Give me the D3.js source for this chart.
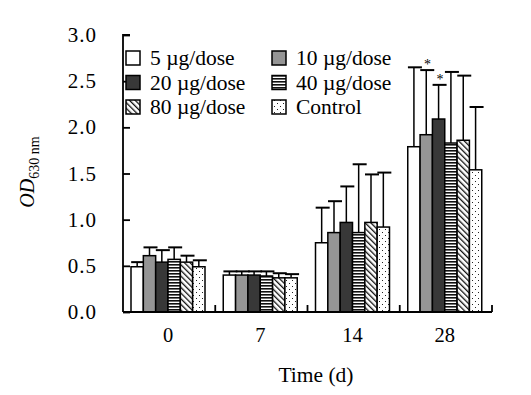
<!DOCTYPE html>
<html>
<head>
<meta charset="utf-8">
<script src="https://cdn.jsdelivr.net/npm/d3@7"></script>
<style>
  body { margin: 0; background: #fff; }
  text { font-family: "Liberation Serif", "Times New Roman", serif; }
</style>
</head>
<body>
<svg id="chart" width="531" height="395"></svg>
<script>
let days = ["0", "7", "14", "28"]
let series = ["5 µg/dose", "10 µg/dose", "20 µg/dose", "40 µg/dose", "80 µg/dose", "Control"]
// bar heights per series, one value per day
let means = [
  [0.49, 0.40, 0.75, 1.79],
  [0.61, 0.40, 0.86, 1.92],
  [0.54, 0.40, 0.97, 2.09],
  [0.57, 0.39, 0.86, 1.83],
  [0.54, 0.37, 0.97, 1.86],
  [0.49, 0.37, 0.92, 1.54]
]
// top of error bar
let upper = [
  [0.54, 0.44, 1.13, 2.65],
  [0.70, 0.44, 1.20, 2.62],
  [0.67, 0.44, 1.36, 2.46],
  [0.70, 0.44, 1.60, 2.60],
  [0.61, 0.42, 1.49, 2.56],
  [0.56, 0.41, 1.51, 2.22]
]
let y_ticks = [0, 0.5, 1.0, 1.5, 2.0, 2.5, 3.0]
let stars = [{series: 1, day: "28"}, {series: 2, day: "28"}]

let svg = d3.select("#chart")
let defs = svg.append("defs")

defs.append("pattern").attr("id", "hstripe").attr("patternUnits", "userSpaceOnUse")
  .attr("width", 4).attr("height", 3)
  .call(p => {
    p.append("rect").attr("width", 4).attr("height", 3).attr("fill", "#fff")
    p.append("rect").attr("width", 4).attr("height", 1.6).attr("fill", "#111")
  })
defs.append("pattern").attr("id", "dstripe").attr("patternUnits", "userSpaceOnUse")
  .attr("width", 4).attr("height", 4).attr("patternTransform", "rotate(-45)")
  .call(p => {
    p.append("rect").attr("width", 4).attr("height", 4).attr("fill", "#fff")
    p.append("rect").attr("width", 1.3).attr("height", 4).attr("fill", "#111")
  })
defs.append("pattern").attr("id", "dots").attr("patternUnits", "userSpaceOnUse")
  .attr("width", 6).attr("height", 6)
  .call(p => {
    p.append("rect").attr("width", 6).attr("height", 6).attr("fill", "#fff")
    p.append("rect").attr("x", 1).attr("y", 1).attr("width", 1).attr("height", 1).attr("fill", "#222")
    p.append("rect").attr("x", 4).attr("y", 4).attr("width", 1).attr("height", 1).attr("fill", "#222")
  })

let fills = ["#fff", "#959595", "#383838", "url(#hstripe)", "url(#dstripe)", "url(#dots)"]

let x = d3.scaleBand().domain(days).range([123, 492])
let xi = d3.scaleBand().domain(d3.range(series.length)).range([8, 82])
let y = d3.scaleLinear().domain([0, 3]).range([312, 35])

// bars + error bars
series.forEach((s, i) => {
  let g = svg.append("g")
  days.forEach((d, j) => {
    let bx = x(d) + xi(i)
    let cx = bx + xi.bandwidth() / 2
    g.append("line")
      .attr("x1", cx).attr("x2", cx)
      .attr("y1", y(means[i][j])).attr("y2", y(upper[i][j]))
      .attr("stroke", "#000").attr("stroke-width", 1.5)
    g.append("line")
      .attr("x1", cx - 6).attr("x2", cx + 8)
      .attr("y1", y(upper[i][j])).attr("y2", y(upper[i][j]))
      .attr("stroke", "#000").attr("stroke-width", 2)
    g.append("rect")
      .attr("x", bx).attr("y", y(means[i][j]))
      .attr("width", xi.bandwidth()).attr("height", y(0) - y(means[i][j]))
      .attr("fill", fills[i]).attr("stroke", "#000").attr("stroke-width", 1.5)
  })
})

stars.forEach(st => {
  let j = days.indexOf(st.day)
  svg.append("text")
    .attr("x", x(st.day) + xi(st.series) + 7.5)
    .attr("y", y(upper[st.series][j]) - 1)
    .attr("text-anchor", "middle").attr("font-size", 14)
    .text("*")
})

// y axis
let y_axis = d3.axisRight(y).tickValues(y_ticks).tickSize(7).tickFormat("")
svg.append("g").attr("transform", "translate(123,0)").call(y_axis)
  .call(g => g.select(".domain").attr("d", "M7,35H0V312"))
  .call(g => g.selectAll("line,path").attr("stroke", "#000").attr("stroke-width", 1.8))
svg.append("g").selectAll("text").data(y_ticks).enter().append("text")
  .attr("x", 97).attr("y", d => y(d) + 7)
  .attr("text-anchor", "end").attr("font-size", 21).attr("letter-spacing", 1)
  .text(d3.format(".1f"))

// x axis
let x_axis = d3.axisBottom(x).tickSize(0).tickFormat("")
svg.append("g").attr("transform", "translate(0,312)").call(x_axis)
  .call(g => g.select(".domain").attr("d", "M123,0H492"))
  .call(g => g.selectAll("path").attr("stroke", "#000").attr("stroke-width", 1.8))
svg.append("g").selectAll("line").data(days).enter().append("line")
  .attr("x1", d => x(d) + x.bandwidth()).attr("x2", d => x(d) + x.bandwidth())
  .attr("y1", 312).attr("y2", 305)
  .attr("stroke", "#000").attr("stroke-width", 1.8)
svg.append("g").selectAll("text").data(days).enter().append("text")
  .attr("x", d => x(d) + 45).attr("y", 342)
  .attr("text-anchor", "middle").attr("font-size", 20.5)
  .text(d => d)

svg.append("text").attr("x", 316).attr("y", 382)
  .attr("text-anchor", "middle").attr("font-size", 21.5)
  .text("Time (d)")

let ylab = svg.append("text")
  .attr("transform", "translate(34,172) rotate(-90)")
  .attr("text-anchor", "middle").attr("font-size", 20)
ylab.append("tspan").attr("font-style", "italic").text("OD")
ylab.append("tspan").attr("font-size", 14).attr("dy", 5).text("630 nm")

// legend
let legend = svg.append("g")
series.forEach((s, i) => {
  let lx = i % 2 == 0 ? 126 : 272
  let ly = 58 + Math.floor(i / 2) * 24.5
  let item = legend.append("g")
  item.append("rect")
    .attr("x", lx).attr("y", ly - 7).attr("width", 14).attr("height", 14)
    .attr("fill", fills[i]).attr("stroke", "#000").attr("stroke-width", 1.5)
  item.append("text")
    .attr("x", lx + 24).attr("y", ly + 7)
    .attr("font-size", 21.5)
    .text(s)
})
</script>
</body>
</html>
